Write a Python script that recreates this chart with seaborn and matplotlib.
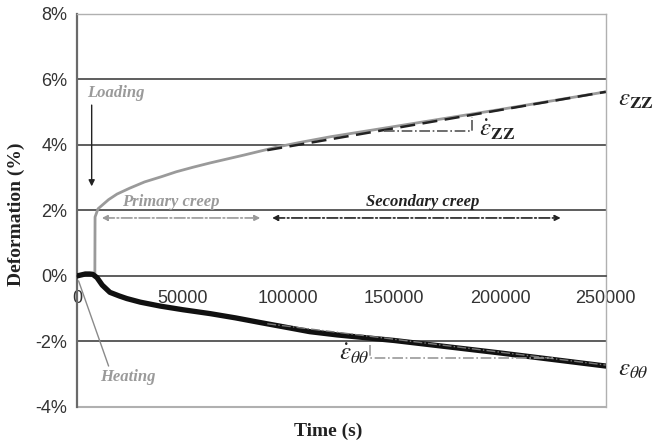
import matplotlib
matplotlib.use("Agg")
import matplotlib.pyplot as plt
import seaborn as sns
import pandas as pd

# --- DATA ---
time_zz = [0, 2000, 4000, 6000, 8000, 8500, 8600, 10000, 15000, 19000, 25000, 32000,
           40000, 47000, 55000, 63000, 71000, 79000, 95000, 105000, 120000, 150000,
           200000, 250000]
eps_zz = [0.0, 0.04, 0.06, 0.05, 0.02, 0.0, 1.80, 2.05, 2.33, 2.50, 2.68, 2.87,
          3.03, 3.18, 3.32, 3.45, 3.57, 3.69, 3.94, 4.07, 4.25, 4.56,
          5.08, 5.62]

time_tt = [0, 2000, 4000, 6000, 7500, 9500, 12000, 15600, 20000, 23600, 30000,
           39400, 50000, 63000, 75000, 86500, 100000, 110000, 123000, 150000,
           175000, 200000, 225000, 250000]
eps_tt = [0.0, 0.03, 0.06, 0.06, 0.05, -0.05, -0.28, -0.50, -0.61, -0.69, -0.80,
          -0.92, -1.03, -1.15, -1.28, -1.42, -1.58, -1.70, -1.80, -1.97,
          -2.16, -2.35, -2.55, -2.75]

fit_zz_t = [90000, 250000]
fit_zz_v = [3.84, 5.62]
fit_tt_t = [90000, 250000]
fit_tt_v = [-1.46, -2.72]

yticks = [-4, -2, 0, 2, 4, 6, 8]
xticks = [0, 50000, 100000, 150000, 200000, 250000]

sns.set_theme(style="white")
plt.rcParams['font.family'] = ['Liberation Sans', 'DejaVu Sans']
plt.rcParams['mathtext.fontset'] = 'stix'

fig = plt.figure(figsize=(6.57, 4.47), dpi=100)
ax = fig.add_axes([0.117, 0.0895, 0.805, 0.8795])

zz = pd.DataFrame({"t": time_zz, "v": eps_zz})
tt = pd.DataFrame({"t": time_tt, "v": eps_tt})

# grid lines
for y in [-2, 2, 4, 6]:
    ax.axhline(y, color="#505050", lw=1.3, zorder=1)

sns.lineplot(data=zz, x="t", y="v", ax=ax, color="#9a9a9a", lw=2.0, zorder=3)
sns.lineplot(data=tt, x="t", y="v", ax=ax, color="#111111", lw=3.8, zorder=3)
ax.plot(fit_zz_t, fit_zz_v, color="#222222", lw=1.8, ls=(0, (6, 3)), zorder=4)
ax.plot(fit_tt_t, fit_tt_v, color="#777777", lw=1.0, ls="-.", zorder=4)

ax.set_xlim(0, 250000)
ax.set_ylim(-4, 8)
ax.set_xticks(xticks)
ax.set_xticklabels([str(x) for x in xticks])
ax.set_yticks(yticks)
ax.set_yticklabels([f"{y}%" for y in yticks])
ax.tick_params(axis="both", labelsize=13, colors="#333333")
ax.tick_params(axis="x", direction="out", length=4, width=1, color="#555555", pad=6)
ax.tick_params(axis="y", length=5, width=1, color="#555555", pad=2)
ax.set_xlabel("")
ax.set_ylabel("")

ax.spines["bottom"].set_position(("data", 0))
ax.spines["bottom"].set_color("#505050")
ax.spines["bottom"].set_linewidth(1.3)
ax.spines["left"].set_color("#6a6a6a")
ax.spines["left"].set_linewidth(1.6)
for s in ["top", "right"]:
    ax.spines[s].set_color("#b0b0b0")
    ax.spines[s].set_linewidth(1.0)
ax.axhline(-4, color="#b0b0b0", lw=1.5, zorder=1, clip_on=False)

serif_bi = dict(family=["Liberation Serif", "DejaVu Serif"], style="italic", weight="bold")

# Loading
ax.text(5000, 5.45, "Loading", color="#9a9a9a", fontsize=12, **serif_bi)
ax.annotate("", xy=(7000, 2.65), xytext=(7000, 5.3),
            arrowprops=dict(arrowstyle="-|>", color="#222222", lw=1.0, mutation_scale=9))

# Heating
ax.text(11000, -3.2, "Heating", color="#9a9a9a", fontsize=12, **serif_bi)
ax.plot([800, 15000], [-0.15, -2.75], color="#8a8a8a", lw=1.0, zorder=4)

# creep arrows
ax.annotate("", xy=(88000, 1.77), xytext=(10500, 1.77),
            arrowprops=dict(arrowstyle="<|-|>", color="#9a9a9a", lw=1.2, ls="-.",
                            mutation_scale=8))
ax.annotate("", xy=(230000, 1.77), xytext=(91000, 1.77),
            arrowprops=dict(arrowstyle="<|-|>", color="#222222", lw=1.2, ls="-.",
                            mutation_scale=8))
ax.text(21500, 2.15, "Primary creep", color="#9a9a9a", fontsize=12, **serif_bi)
ax.text(136500, 2.15, "Secondary creep", color="#222222", fontsize=12, **serif_bi)

# slope triangles
ax.plot([145000, 187000, 187000], [4.42, 4.42, 4.85], color="#555555", lw=1.2, ls="-.", zorder=4)
ax.plot([138500, 138500, 225000], [-2.1, -2.5, -2.5], color="#999999", lw=1.2, ls="-.", zorder=4)

ax.text(190000, 4.25, r"$\dot{\varepsilon}_{\mathbf{ZZ}}$", fontsize=18, color="#222222")
ax.text(124000, -2.6, r"$\dot{\varepsilon}_{\theta\theta}$", fontsize=18, color="#222222")
ax.text(256000, 5.2, r"$\varepsilon_{\mathbf{ZZ}}$", fontsize=18, color="#222222", clip_on=False)
ax.text(256000, -3.05, r"$\varepsilon_{\theta\theta}$", fontsize=18, color="#222222", clip_on=False)

fig.text(0.5, 0.015, "Time (s)", ha="center", va="bottom", fontsize=14,
         family=["Liberation Serif", "DejaVu Serif"], weight="bold", color="#222222")
fig.text(0.025, 0.52, "Deformation (%)", ha="center", va="center", rotation=90, fontsize=14,
         family=["Liberation Serif", "DejaVu Serif"], weight="bold", color="#222222")

fig.savefig("out.png", dpi=100)
